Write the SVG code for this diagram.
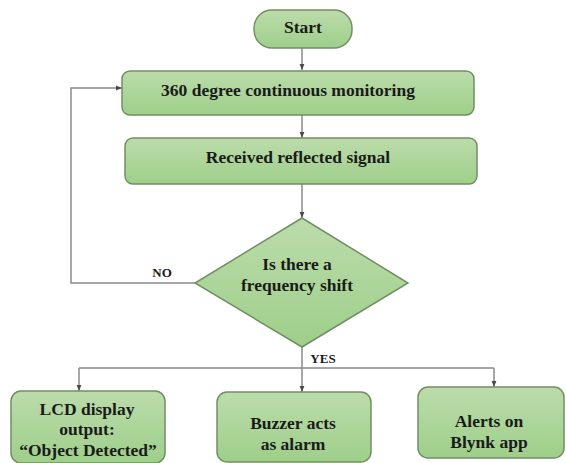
<svg xmlns="http://www.w3.org/2000/svg" width="566" height="463" viewBox="0 0 566 463">
<defs>
<linearGradient id="g" x1="0" y1="0" x2="0" y2="1">
<stop offset="0" stop-color="#bcdcab"/>
<stop offset="1" stop-color="#9ecf8a"/>
</linearGradient>
<marker id="ah" viewBox="0 0 10 10" refX="10" refY="5" markerWidth="6" markerHeight="6" orient="auto" markerUnits="userSpaceOnUse">
<path d="M0,1 L10,5 L0,9 Z" fill="#4a4a4a"/>
</marker>
<style>
.n{fill:url(#g);stroke:#728f64;stroke-width:1.5}
.t{font-family:"Liberation Serif","Times New Roman",serif;font-weight:bold;font-size:17.5px;fill:#1a1a1a;text-anchor:middle;dominant-baseline:central}
.s{font-size:13px}
.c{fill:none;stroke:#8a8a8a;stroke-width:1.5}
.a{marker-end:url(#ah)}
</style>
</defs>
<rect width="566" height="463" fill="#ffffff"/>
<g id="connectors">
<line class="c a" x1="302" y1="48" x2="302" y2="70"/>
<line class="c a" x1="302" y1="115" x2="302" y2="138"/>
<line class="c a" x1="302" y1="184" x2="302" y2="218"/>
<polyline class="c a" points="195,283 71,283 71,88 122,88"/>
<line class="c" x1="302" y1="347" x2="302" y2="368"/>
<line class="c" x1="79" y1="368" x2="494" y2="368"/>
<line class="c a" x1="79" y1="368" x2="79" y2="391"/>
<line class="c a" x1="302" y1="368" x2="302" y2="392"/>
<line class="c a" x1="494" y1="368" x2="494" y2="387"/>
<text class="t s" x="162" y="272">NO</text>
<text class="t s" x="323" y="358">YES</text>
</g>
<g id="start">
<rect class="n" x="254" y="10" width="98" height="38" rx="18"/>
<text class="t" x="303" y="27">Start</text>
</g>
<g id="monitor">
<rect class="n" x="122" y="71" width="352" height="44" rx="8"/>
<text class="t" x="288" y="90">360 degree continuous monitoring</text>
</g>
<g id="received">
<rect class="n" x="125" y="138" width="352" height="46" rx="8"/>
<text class="t" x="298" y="157">Received reflected signal</text>
</g>
<g id="decision">
<polygon class="n" points="302,218 408,283 302,347 195,283"/>
<text class="t" x="297" y="264">Is there a</text>
<text class="t" x="297" y="285">frequency shift</text>
</g>
<g id="lcd">
<rect class="n" x="11" y="391" width="154" height="72" rx="10"/>
<text class="t" x="87" y="409">LCD display</text>
<text class="t" x="87" y="429">output:</text>
<text class="t" x="88" y="450">“Object Detected”</text>
</g>
<g id="buzzer">
<rect class="n" x="217" y="392" width="154" height="70" rx="10"/>
<text class="t" x="293" y="423">Buzzer acts</text>
<text class="t" x="293" y="444">as alarm</text>
</g>
<g id="blynk">
<rect class="n" x="418" y="387" width="146" height="71" rx="10"/>
<text class="t" x="489" y="421">Alerts on</text>
<text class="t" x="489" y="442">Blynk app</text>
</g>
</svg>
